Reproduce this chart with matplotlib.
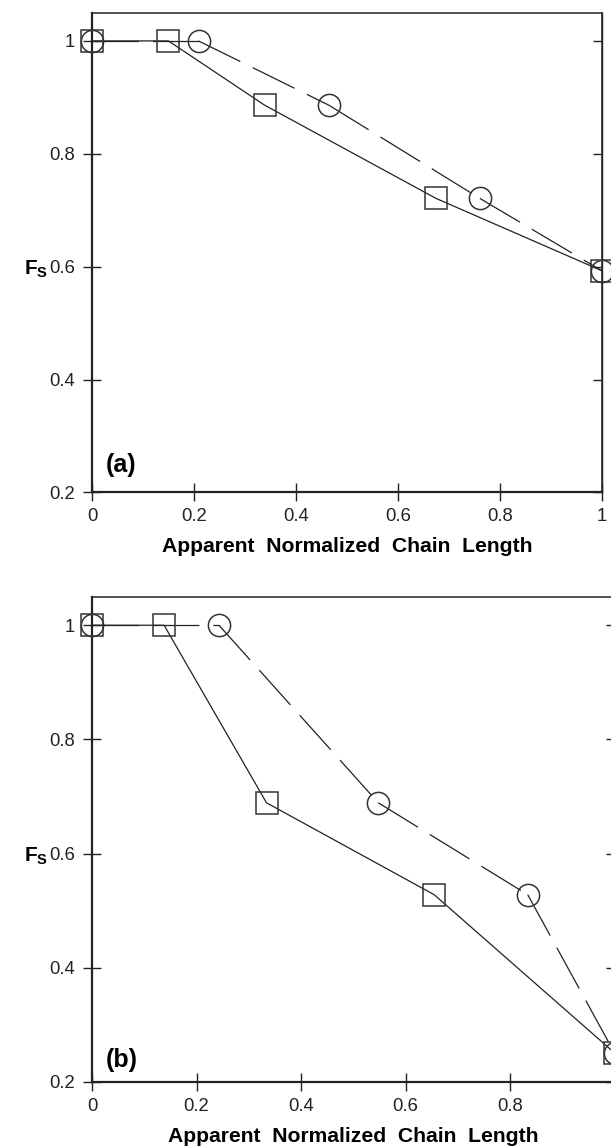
import matplotlib
matplotlib.use("Agg")
import matplotlib.pyplot as plt
import matplotlib.transforms as mtransforms
from matplotlib.ticker import FixedLocator, FuncFormatter

plt.rcParams["font.family"] = ["Liberation Sans", "DejaVu Sans"]
plt.rcParams["mathtext.fontset"] = "custom"
plt.rcParams["mathtext.rm"] = "Liberation Sans"
plt.rcParams["mathtext.bf"] = "Liberation Sans:bold"
plt.rcParams["lines.scale_dashes"] = False

# Fraction surviving vs apparent normalized chain length
fs_a = [1.0, 1.0, 0.886, 0.721, 0.593]
sq_x_a = [0.0, 0.15, 0.339, 0.675, 1.0]
ci_x_a = [0.0, 0.209, 0.465, 0.761, 1.0]

fs_b = [1.0, 1.0, 0.689, 0.528, 0.251]
sq_x_b = [0.0, 0.138, 0.334, 0.655, 1.0]
ci_x_b = [0.0, 0.243, 0.548, 0.834, 1.0]

x_ticks = [0, 0.2, 0.4, 0.6, 0.8, 1.0]
y_ticks = [0.2, 0.4, 0.6, 0.8, 1.0]

INK = "#222222"
MARK = "#333333"
DPI = 100
W, H = 611, 1146


def fmt_tick(v, _pos):
    return f"{v:g}"


def draw_panel(ax, sq_x, ci_x, fs, tag, tag_lift):
    # solid line through the squares
    ax.plot(sq_x, fs, color=INK, lw=0.9, zorder=2, clip_on=False)
    # dashed line through the circles; pattern restarts at every vertex
    for i in range(len(ci_x) - 1):
        ax.plot(ci_x[i:i + 2], fs[i:i + 2], color=INK, lw=0.9,
                linestyle=(0, (33.5, 10.0)), zorder=2, clip_on=False)
    ax.plot(sq_x, fs, linestyle="none", marker="s", ms=16, mfc="none",
            mec=MARK, mew=1.1, zorder=3, clip_on=False)
    ax.plot(ci_x, fs, linestyle="none", marker="o", ms=16, mfc="none",
            mec=MARK, mew=1.1, zorder=3, clip_on=False)

    ax.set_xlim(0, 1)
    ax.set_ylim(0.2, 1.05)
    ax.xaxis.set_major_locator(FixedLocator(x_ticks))
    ax.yaxis.set_major_locator(FixedLocator(y_ticks))
    ax.xaxis.set_major_formatter(FuncFormatter(fmt_tick))
    ax.yaxis.set_major_formatter(FuncFormatter(fmt_tick))

    ax.tick_params(axis="x", direction="inout", length=13, width=1.0,
                   color=INK, labelcolor=INK, labelsize=13.3, pad=4.8,
                   top=False)
    ax.tick_params(axis="y", left=True, right=False, direction="inout",
                   length=13, width=1.0, color=INK, labelcolor=INK,
                   labelsize=13.3, pad=5.8)
    # inward ticks on the right-hand frame
    sec = ax.secondary_yaxis("right")
    sec.yaxis.set_major_locator(FixedLocator(y_ticks))
    sec.tick_params(direction="in", length=6.5, width=1.0, color=INK,
                    labelright=False)
    sec.spines["right"].set_linewidth(1.0)
    sec.spines["right"].set_color(INK)

    for side, lw in (("left", 1.6), ("bottom", 1.6), ("top", 1.1), ("right", 1.1)):
        ax.spines[side].set_linewidth(lw)
        ax.spines[side].set_color(INK)

    ax.set_xlabel("Apparent  Normalized  Chain  Length", fontsize=15.2,
                  fontweight="bold", color="black")
    ax.xaxis.label.set_va("baseline")
    height_px = ax.get_position().height * H
    ax.xaxis.set_label_coords(0.5, -59.6 / height_px)

    lab_tf = mtransforms.blended_transform_factory(ax.figure.transFigure, ax.transData)
    ax.text(24 / W, 0.595, r"$\mathbf{F}_{\mathbf{S}}$", transform=lab_tf,
            fontsize=15, ha="left", va="center", color="black")

    ax.text(0.027, tag_lift / height_px, tag, transform=ax.transAxes,
            fontsize=18, fontweight="bold", ha="left", va="baseline",
            color="black")


fig = plt.figure(figsize=(W / DPI, H / DPI), dpi=DPI)
ax_a = fig.add_axes([92 / W, (H - 492.5) / H, 509.7 / W, 479.8 / H])
ax_b = fig.add_axes([92 / W, (H - 1082) / H, 522.5 / W, 485.3 / H])

draw_panel(ax_a, sq_x_a, ci_x_a, fs_a, "(a)", 20)
draw_panel(ax_b, sq_x_b, ci_x_b, fs_b, "(b)", 15)

fig.savefig("out.png", dpi=DPI)
